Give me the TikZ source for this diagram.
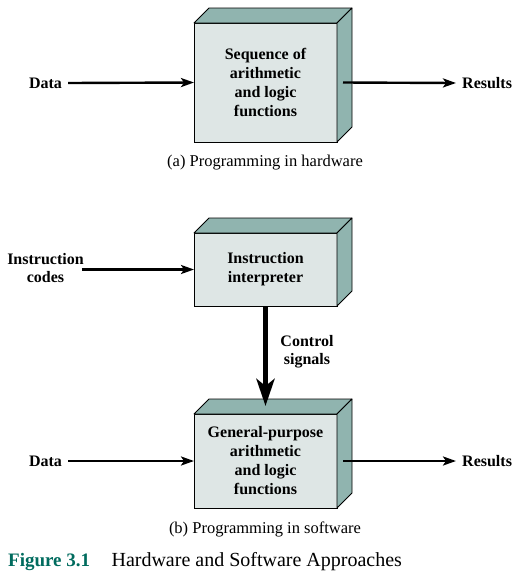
\documentclass[tikz,border=0pt]{standalone}
\usepackage{fontspec}
\setmainfont{Liberation Serif}
\usetikzlibrary{arrows.meta}
\usetikzlibrary{positioning}
\definecolor{frontgray}{RGB}{222,230,229}
\definecolor{sidegreen}{RGB}{144,180,175}
\definecolor{figteal}{RGB}{0,107,94}

\begin{document}
\begin{tikzpicture}[x=1pt,y=-1pt]
		  \tikzset{
			block/.style={draw,fill=frontgray,line width=0.8pt,minimum width=143pt,outer sep=0pt,
			  inner sep=0pt,align=center,font=\fontsize{16}{19}\selectfont\bfseries},
			lbl/.style={align=center,inner sep=6pt,font=\fontsize{16}{18}\selectfont\bfseries},
			flow/.style={line width=2.4pt,-{Stealth[length=13pt,width=9pt,inset=3pt]}},
			bigflow/.style={line width=5pt,-{Stealth[length=27pt,width=18pt,inset=7pt]}},
			caption/.style={anchor=base,font=\fontsize{16.5}{20}\selectfont},
			face/.style={fill=sidegreen,line width=0.8pt,line join=round},
		  }
		  \useasboundingbox (0,0) rectangle (522,574);
		  %BOXES
		  \node[block,minimum height=119pt] (seq) at (265.5,82.5) {Sequence of\\arithmetic\\and logic\\functions};
		  \node[block,minimum height=73pt] (interp) at (265.5,269.5) {Instruction\\interpreter};
		  \node[block,minimum height=94pt] (gp) at (265.5,461) {General-purpose\\arithmetic\\and logic\\functions};
		  %TOP AND SIDE FACES
		  \foreach \b in {seq,interp,gp}{
			\filldraw[face] (\b.north west) -- ([shift={(15,-15)}]\b.north west)
			  -- ([shift={(15,-15)}]\b.north east) -- (\b.north east) -- cycle;
			\filldraw[face] (\b.north east) -- ([shift={(15,-15)}]\b.north east)
			  -- ([shift={(15,-15)}]\b.south east) -- (\b.south east) -- cycle;
		  }
		  %LABELS
		  \node[lbl] (data1) at (45.5,83) {Data};
		  \node[lbl,anchor=west] (res1) at (456,83) {Results};
		  \node[lbl] (codes) at (45.5,268) {Instruction\\codes};
		  \node[lbl] (ctrl) at (307,352) {Control\\signals};
		  \node[lbl] (data2) at (45.5,461) {Data};
		  \node[lbl,anchor=west] (res2) at (456,461) {Results};
		  %ARROWS
		  \draw[flow] (data1.east) -- (seq.west);
		  \draw[flow] ([xshift=6pt]seq.east) -- (res1.west);
		  \draw[flow] ([xshift=-8pt]codes.east |- interp.west) -- (interp.west);
		  \draw[bigflow] (interp.south) -- ([yshift=8pt]gp.north);
		  \draw[flow] (data2.east) -- (gp.west);
		  \draw[flow] ([xshift=6pt]gp.east) -- (res2.west);
		  %CAPTIONS
		  \node[caption] (capa) at (265,166) {(a) Programming in hardware};
		  \node[caption] (capb) at (265,533) {(b) Programming in software};
		  \node[anchor=base west,inner sep=0pt,text=figteal,font=\fontsize{19}{22}\selectfont\bfseries] (fignum) at (8,566) {Figure 3.1};
		  \node[anchor=base west,inner sep=0pt,font=\fontsize{20}{24}\selectfont] (figtitle) at ([xshift=21pt]fignum.base east) {Hardware and Software Approaches};
\end{tikzpicture}
\end{document}
